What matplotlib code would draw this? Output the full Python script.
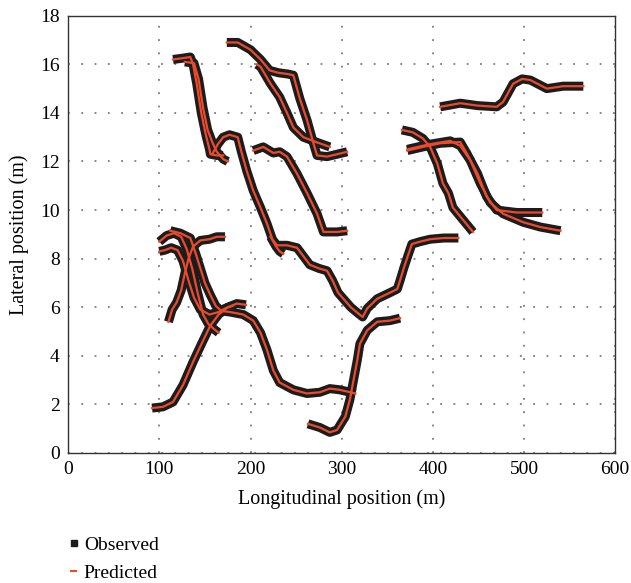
import matplotlib.pyplot as plt
from matplotlib.lines import Line2D

plt.rcParams['font.family'] = ['Liberation Serif', 'DejaVu Serif']

## Trayectorias (x = longitudinal, y = lateral), en metros
t1a_x = [115, 125, 134, 137, 141, 146, 151, 155, 156, 163, 170]
t1a_y = [16.2, 16.25, 16.3, 16.0, 15.2, 14.0, 13.1, 12.5, 12.3, 12.25, 12.25]

t1b_x = [128, 138, 143, 148, 153, 158, 163, 170, 175]
t1b_y = [16.1, 16.05, 15.4, 14.2, 13.3, 12.8, 12.4, 12.1, 12.0]

t2_x = [158, 164, 170, 177, 186, 190, 196, 203, 211, 218, 224, 229, 240, 251, 258, 265, 275, 284,
        290, 296, 303, 310, 318, 323, 328, 339, 353, 361, 364, 368, 372, 377, 386, 397, 412, 428]
t2_y = [12.3, 12.7, 13.0, 13.1, 13.0, 12.4, 11.6, 10.8, 10.1, 9.45, 8.8, 8.55, 8.55, 8.45, 8.1, 7.75, 7.6, 7.5,
        7.1, 6.6, 6.3, 6.0, 5.75, 5.6, 5.95, 6.35, 6.6, 6.75, 7.1, 7.6, 8.05, 8.6, 8.7, 8.8, 8.85, 8.85]

t2b_x = [222, 228, 232, 236]
t2b_y = [8.9, 8.5, 8.3, 8.2]

t3_x = [174, 186, 200, 211, 221, 231, 241, 247, 254, 262, 269, 273, 284, 295, 306]
t3_y = [16.9, 16.9, 16.6, 16.2, 15.75, 15.65, 15.6, 15.55, 14.6, 13.7, 12.75, 12.25, 12.2, 12.3, 12.4]

t4_x = [207, 211, 222, 232, 240, 247, 258, 272, 287]
t4_y = [16.0, 15.9, 15.2, 14.65, 14.0, 13.4, 13.0, 12.8, 12.6]

t5_x = [203, 214, 225, 232, 240, 251, 262, 273, 280, 295, 306]
t5_y = [12.45, 12.6, 12.35, 12.4, 12.2, 11.5, 10.7, 9.85, 9.1, 9.1, 9.15]

t6_x = [263, 276, 287, 295, 304, 309, 313, 317, 320, 328, 339, 353, 364]
t6_y = [1.2, 1.05, 0.85, 0.95, 1.5, 2.2, 3.0, 3.8, 4.5, 5.05, 5.4, 5.45, 5.55]

t7_x = [112, 123, 134, 140, 145, 150, 156, 162, 168, 178, 192, 203, 211, 218, 225, 232, 247, 262, 276, 287, 298, 315]
t7_y = [9.15, 9.05, 8.85, 8.2, 7.6, 7.0, 6.5, 6.05, 5.85, 5.8, 5.7, 5.45, 4.95, 4.25, 3.4, 2.9, 2.6, 2.45, 2.5, 2.65, 2.6, 2.45]

t8_x = [92, 104, 115, 126, 137, 147, 156, 165, 175, 185, 195]
t8_y = [1.85, 1.9, 2.1, 2.8, 3.75, 4.55, 5.25, 5.7, 6.0, 6.15, 6.1]

t9_x = [110, 114, 119, 124, 128, 132, 137, 145, 155, 163, 172]
t9_y = [5.4, 5.9, 6.2, 6.7, 7.4, 8.0, 8.5, 8.75, 8.8, 8.9, 8.9]

t10_x = [100, 108, 116, 124, 130, 136, 142, 148, 154, 160, 165]
t10_y = [8.7, 8.95, 9.05, 8.9, 8.4, 7.6, 6.6, 5.7, 5.3, 5.1, 4.95]

t11_x = [100, 106, 113, 120, 126, 132, 138, 145, 155, 165, 172, 180]
t11_y = [8.3, 8.35, 8.45, 8.35, 7.9, 7.1, 6.4, 5.9, 5.7, 5.8, 5.95, 6.05]

t12_x = [408, 430, 449, 470, 477, 488, 498, 507, 525, 543, 565]
t12_y = [14.25, 14.4, 14.3, 14.25, 14.45, 15.2, 15.4, 15.35, 15.0, 15.1, 15.1]

t13_x = [366, 378, 389, 397, 405, 411, 417, 422, 433, 444]
t13_y = [13.3, 13.2, 12.95, 12.6, 11.9, 11.1, 10.7, 10.1, 9.6, 9.1]

t14_x = [372, 389, 408, 430, 437, 449, 459, 470, 492, 520]
t14_y = [12.45, 12.6, 12.75, 12.8, 12.35, 11.5, 10.55, 10.0, 9.9, 9.9]

t15_x = [372, 395, 419, 430, 441, 452, 463, 477, 499, 518, 540]
t15_y = [12.5, 12.7, 12.85, 12.65, 12.05, 11.1, 10.3, 9.85, 9.5, 9.3, 9.15]

tracks = [(t1a_x, t1a_y), (t1b_x, t1b_y), (t2_x, t2_y), (t2b_x, t2b_y), (t3_x, t3_y),
          (t4_x, t4_y), (t5_x, t5_y), (t6_x, t6_y), (t7_x, t7_y), (t8_x, t8_y),
          (t9_x, t9_y), (t10_x, t10_y), (t11_x, t11_y), (t12_x, t12_y), (t13_x, t13_y),
          (t14_x, t14_y), (t15_x, t15_y)]

red = '#ec4a2c'

## Figura
fig = plt.figure(figsize=(6.31, 5.83), dpi=100)
ax = fig.add_axes([0.108, 0.223, 0.867, 0.75])

# observado (banda negra gruesa)
for x, y in tracks:
    ax.plot(x, y, color='#1c1c1c', lw=6.5, solid_capstyle='butt', solid_joinstyle='round', zorder=2)
# predicho (linea roja)
for x, y in tracks:
    ax.plot(x, y, color=red, lw=1.6, zorder=3)

ax.set_xlim(0, 600)
ax.set_ylim(0, 18)
ax.set_xticks(range(0, 601, 100))
ax.set_yticks(range(0, 19, 2))
ax.grid(True, color='#666666', linestyle=(0, (1.2, 7.5)), lw=1.1)
ax.tick_params(labelsize=14, length=0, pad=6)
for s in ax.spines.values():
    s.set_color('#333333')
    s.set_linewidth(1.0)

ax.set_xlabel('Longitudinal position (m)', fontsize=14.5, labelpad=8)
ax.set_ylabel('Lateral position (m)', fontsize=14.5, labelpad=8)

handles = [Line2D([], [], color='#1c1c1c', marker='s', ls='none', markersize=4.5),
           Line2D([], [], color=red, ls='-', lw=1.5)]
fig.legend(handles, ['Observed', 'Predicted'], loc='lower left', bbox_to_anchor=(0.085, -0.028),
           frameon=False, fontsize=14, handlelength=0.25, handletextpad=0.4, labelspacing=0.55)

fig.savefig('out.png', dpi=100)
